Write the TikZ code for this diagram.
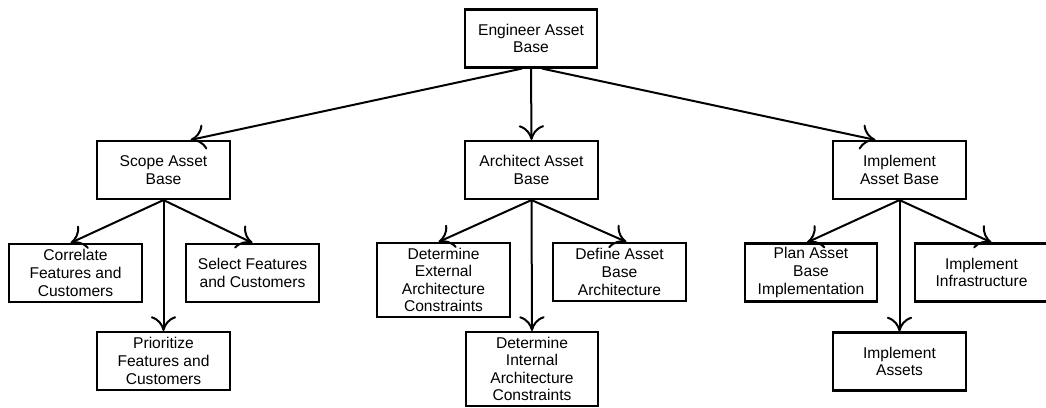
\documentclass[tikz,border=0pt]{standalone}
\usepackage{fontspec}
\setmainfont{Liberation Sans}
\usetikzlibrary{arrows.meta,calc}
\begin{document}
\begin{tikzpicture}[x=0.75pt,y=-0.75pt,
  box/.style={draw,line width=1.6pt,fill=white,minimum width=99.5pt,minimum height=43.5pt,inner sep=0pt,align=center,font=\fontsize{11.7pt}{13.2pt}\selectfont},
  tall/.style={box,minimum height=55.5pt},
  conn/.style={line width=1.5pt,-{Computer Modern Rightarrow[length=11pt,width=19pt,line width=1.5pt]}}]
\useasboundingbox (0,0) rectangle (1046,407);
\node[box] (eng) at (531,38.5) {Engineer Asset\\Base};
\node[box] (scope) at (163.5,170) {Scope Asset\\Base};
\node[box] (arch) at (531.5,170) {Architect Asset\\Base};
\node[box] (impl) at (899.5,170) {Implement\\Asset Base};
\node[box] (corr) at (75.5,273) {Correlate\\Features and\\Customers};
\node[box] (sel) at (252.5,273) {Select Features\\and Customers};
\node[box] (prio) at (163.5,361) {Prioritize\\Features and\\Customers};
\node[tall] (ext) at (443.5,280) {Determine\\External\\Architecture\\Constraints};
\node[box] (def) at (619.5,272) {Define Asset\\Base\\Architecture};
\node[tall] (int) at (532,369) {Determine\\Internal\\Architecture\\Constraints};
\node[box] (plan) at (811,272.5) {Plan Asset\\Base\\Implementation};
\node[box] (infra) at (981.5,272.5) {Implement\\Infrastructure};
\node[box] (ass) at (899.5,361.5) {Implement\\Assets};
\draw[conn] ($(eng.south)+(-9,0)$) -- ($(scope.north)+(27,0)$);
\draw[conn] (eng.south) -- (arch.north);
\draw[conn] ($(eng.south)+(11,0)$) -- ($(impl.north)+(-24,0)$);
\draw[conn] (scope.south) -- ($(corr.north)+(-5,0)$);
\draw[conn] (scope.south) -- (prio.north);
\draw[conn] (scope.south) -- (sel.north);
\draw[conn] (arch.south) -- ($(ext.north)+(-5,0)$);
\draw[conn] (arch.south) -- (int.north);
\draw[conn] (arch.south) -- ($(def.north)+(7,0)$);
\draw[conn] (impl.south) -- ($(plan.north)+(-4,0)$);
\draw[conn] (impl.south) -- (ass.north);
\draw[conn] (impl.south) -- ($(infra.north)+(10,0)$);
\end{tikzpicture}
\end{document}
